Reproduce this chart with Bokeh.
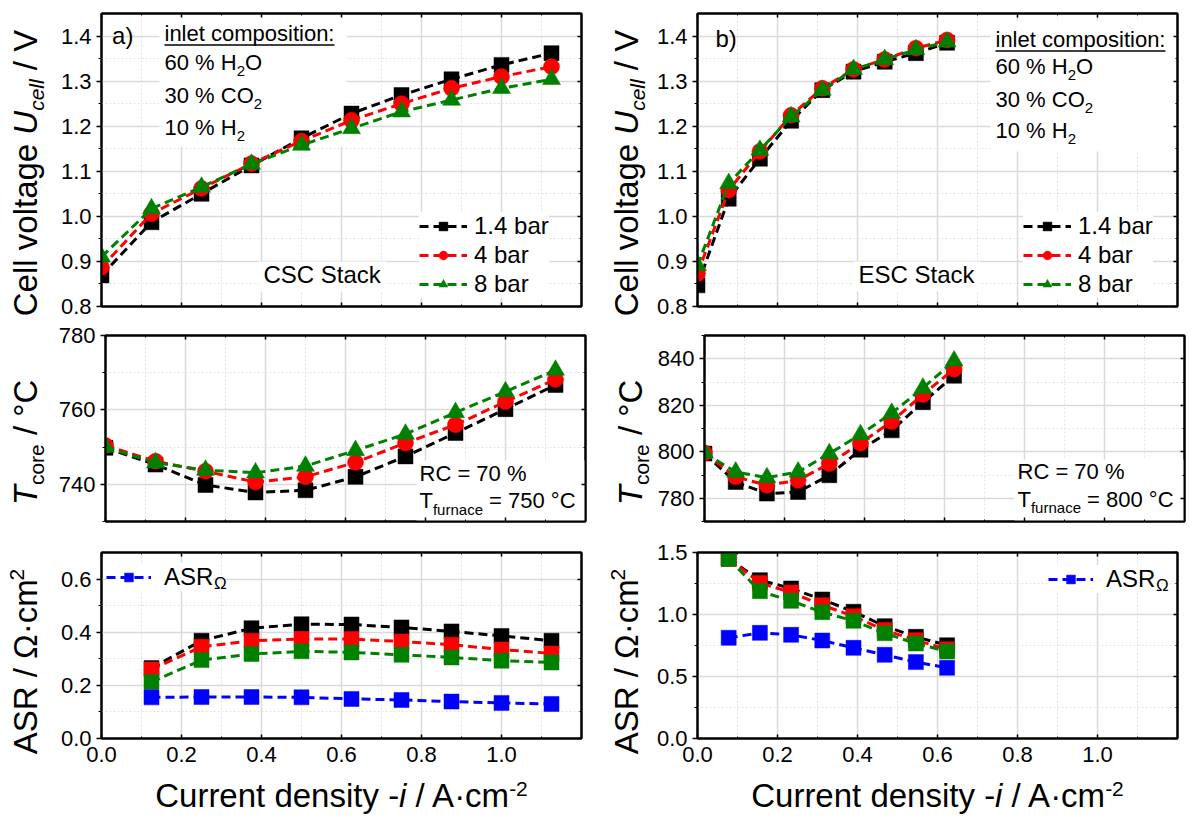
import math
from bokeh.plotting import figure
from bokeh.models import (Range1d, LinearAxis, SingleIntervalTicker, PrintfTickFormatter,
                          Label, Legend, LegendItem, BoxAnnotation)
from bokeh.layouts import column, row
from bokeh.embed import file_html
from bokeh.resources import INLINE

FONT = "Liberation Sans"

# ---------------- data ----------------
j_csc = [0.0, 0.125, 0.25, 0.375, 0.5, 0.625, 0.75, 0.875, 1.0, 1.125]
u_csc_1_4 = [0.869, 0.987, 1.050, 1.113, 1.173, 1.228, 1.269, 1.304, 1.336, 1.362]
u_csc_4 = [0.887, 1.006, 1.062, 1.117, 1.167, 1.213, 1.250, 1.284, 1.310, 1.332]
u_csc_8 = [0.910, 1.017, 1.065, 1.116, 1.158, 1.195, 1.232, 1.258, 1.284, 1.304]

j_esc = [0.0, 0.078, 0.156, 0.234, 0.312, 0.39, 0.468, 0.546, 0.624]
u_esc_1_4 = [0.847, 1.039, 1.128, 1.212, 1.280, 1.321, 1.343, 1.362, 1.385]
u_esc_4 = [0.873, 1.058, 1.144, 1.224, 1.284, 1.326, 1.348, 1.373, 1.391]
u_esc_8 = [0.891, 1.073, 1.147, 1.221, 1.280, 1.326, 1.348, 1.370, 1.387]

t_csc_1_4 = [749.8, 745.3, 739.8, 737.8, 738.4, 742.0, 747.5, 753.8, 760.2, 766.7]
t_csc_4 = [750.4, 746.2, 743.5, 740.6, 742.0, 745.9, 751.1, 756.0, 762.2, 768.2]
t_csc_8 = [750.0, 745.8, 743.8, 743.1, 744.9, 749.1, 753.5, 759.3, 764.9, 770.7]

t_esc_1_4 = [799.2, 787.0, 782.0, 782.7, 789.9, 800.9, 809.2, 821.3, 832.7]
t_esc_4 = [799.5, 789.2, 785.6, 787.7, 794.9, 803.7, 813.0, 824.6, 835.6]
t_esc_8 = [799.5, 791.3, 788.9, 791.3, 799.2, 807.4, 816.6, 827.4, 839.1]

j_csc_asr = [0.125, 0.25, 0.375, 0.5, 0.625, 0.75, 0.875, 1.0, 1.125]
asr_csc_1_4 = [0.265, 0.368, 0.415, 0.430, 0.429, 0.418, 0.403, 0.386, 0.368]
asr_csc_4 = [0.260, 0.345, 0.368, 0.374, 0.374, 0.365, 0.353, 0.335, 0.320]
asr_csc_8 = [0.213, 0.295, 0.318, 0.328, 0.324, 0.315, 0.305, 0.293, 0.286]
asr_csc_ohm = [0.155, 0.156, 0.156, 0.155, 0.149, 0.145, 0.139, 0.134, 0.130]

j_esc_asr = [0.078, 0.156, 0.234, 0.312, 0.39, 0.468, 0.546, 0.624]
asr_esc_1_4 = [1.450, 1.277, 1.210, 1.121, 1.022, 0.906, 0.820, 0.752]
asr_esc_4 = [1.450, 1.255, 1.177, 1.075, 0.986, 0.874, 0.793, 0.720]
asr_esc_8 = [1.449, 1.188, 1.110, 1.019, 0.949, 0.849, 0.766, 0.702]
asr_esc_ohm = [0.812, 0.852, 0.836, 0.790, 0.731, 0.675, 0.616, 0.570]

pressure_labels = ["1.4 bar", "4 bar", "8 bar"]
x_range = (0.0, 1.2)

# ---------------- helpers ----------------
W = {' ': 278, '%': 889, '(': 333, ')': 333, '-': 333, '.': 278, '/': 278, ':': 278, '=': 584,
     'A': 667, 'C': 722, 'E': 667, 'H': 722, 'O': 778, 'R': 722, 'S': 667, 'T': 611, 'U': 722,
     'V': 667, 'a': 556, 'b': 556, 'c': 500, 'd': 556, 'e': 556, 'f': 278, 'g': 556, 'i': 222,
     'k': 500, 'l': 222, 'm': 833, 'n': 556, 'o': 556, 'p': 556, 'r': 333, 's': 500, 't': 278,
     'u': 556, 'v': 500, 'y': 500, '°': 400, '·': 278, 'Ω': 768}
for d in "0123456789":
    W[d] = 556

BASE_FIX = 0.37   # empirical baseline correction (fraction of font size)


def tw(s, size):
    return sum(W.get(c, 556) for c in s) * size / 1000.0


def rich(p, pieces, x, y, vertical=False, center=False):
    total = sum(tw(t, s) for t, s, _, _ in pieces)
    pos = (y if vertical else x) - (total / 2 if center else 0)
    for t, s, shift, style in pieces:
        lead = len(t) - len(t.lstrip(" "))
        pos += tw(" " * lead, s)
        txt = t.strip(" ")
        up = shift + BASE_FIX * s
        if vertical:
            lx, ly, ang = x - up, pos, math.pi / 2
        else:
            lx, ly, ang = pos, y + up, 0.0
        p.add_layout(Label(x=lx, y=ly, x_units="screen", y_units="screen", text=txt,
                           text_font=FONT, text_font_size=f"{s}px", text_font_style=style,
                           text_color="black", text_align="left", text_baseline="alphabetic",
                           angle=ang, angle_units="rad"))
        pos += tw(t.lstrip(" "), s)
    return total


def box(p, l, r, b, t, color="white", level="underlay"):
    p.add_layout(BoxAnnotation(left=l, right=r, bottom=b, top=t, left_units="screen",
                               right_units="screen", bottom_units="screen", top_units="screen",
                               fill_color=color, fill_alpha=1.0, line_color=None,
                               level=level))


def strip(w, h):
    s = figure(frame_width=w, frame_height=h, x_range=Range1d(0, 1), y_range=Range1d(0, 1),
               output_backend="svg", toolbar_location=None, x_axis_type=None, y_axis_type=None,
               min_border_left=0, min_border_right=0, min_border_top=0, min_border_bottom=0,
               outline_line_color=None, background_fill_color="white",
               border_fill_color="white")
    s.grid.visible = False
    return s


def make_panel(y_rng, y_int, y_fmt, fh, bl, br, bt, bb, x_labels):
    p = figure(frame_width=480, frame_height=fh, x_range=Range1d(*x_range),
               y_range=Range1d(*y_rng), output_backend="svg", toolbar_location=None,
               min_border_left=bl, min_border_right=br, min_border_top=bt, min_border_bottom=bb,
               background_fill_color="white", border_fill_color="white")
    xt = SingleIntervalTicker(interval=0.2, num_minor_ticks=2)
    yt = SingleIntervalTicker(interval=y_int, num_minor_ticks=2)
    p.xaxis.ticker = xt
    p.yaxis.ticker = yt
    p.xgrid.ticker = xt
    p.ygrid.ticker = yt
    p.grid.grid_line_color = "#dadada"
    p.grid.grid_line_width = 1.5
    p.grid.minor_grid_line_color = "#e2e2e2"
    p.grid.minor_grid_line_dash = "2 2"
    p.grid.minor_grid_line_width = 1
    p.outline_line_color = "black"
    p.outline_line_width = 2
    for ax in p.xaxis:
        ax.formatter = PrintfTickFormatter(format="%.1f")
        ax.axis_line_width = 2
        ax.major_tick_in = 4
        ax.major_tick_out = 0
        ax.minor_tick_in = 2
        ax.minor_tick_out = 0
        ax.major_tick_line_width = 1.5
        ax.major_label_text_font = FONT
        if x_labels:
            ax.major_label_text_font_size = "22px"
            ax.major_label_standoff = 8
            ax.major_label_text_color = "black"
        else:
            ax.major_label_text_font_size = "0px"
            ax.major_label_text_color = None
            ax.major_label_standoff = 0
    for ax in p.yaxis:
        ax.formatter = PrintfTickFormatter(format=y_fmt)
        ax.axis_line_width = 2
        ax.major_tick_in = 0
        ax.major_tick_out = 5
        ax.minor_tick_in = 0
        ax.minor_tick_out = 3
        ax.major_tick_line_width = 1.5
        ax.major_label_text_font = FONT
        ax.major_label_text_font_size = "22px"
        ax.major_label_standoff = 5
        ax.major_label_text_color = "black"
    for side, tk in (("above", xt), ("right", yt)):
        ax = LinearAxis(ticker=tk, major_tick_in=4, major_tick_out=0, minor_tick_in=2,
                        minor_tick_out=0, major_label_text_font_size="0px",
                        major_label_text_color=None, major_label_standoff=0,
                        axis_line_width=2, major_tick_line_width=1.5)
        p.add_layout(ax, side)
    return p


def series(p, x, y, color, marker, size):
    r1 = p.line(x, y, line_color=color, line_width=3, line_dash="9 5")
    r2 = p.scatter(x, y, marker=marker, size=size, fill_color=color, line_color=color,
                   line_width=0.5)
    return [r1, r2]


def legend(p, items, loc, gw, stand):
    lg = Legend(items=[LegendItem(label=l, renderers=r) for l, r in items], location=loc,
                label_text_font=FONT, label_text_font_size="24px", label_text_color="black",
                glyph_width=gw, glyph_height=22, label_height=22, spacing=1, padding=4,
                margin=0, border_line_color=None, background_fill_color="white",
                background_fill_alpha=1.0, label_standoff=stand)
    p.add_layout(lg)


colors = ["black", "red", "green"]
markers = [("square", 15), ("circle", 16), ("triangle", 18)]

# layout geometry (pixels)
SLW, LB, LR = 55, 46, 9       # left label strip, left panel borders
SRW, RB, RR = 60, 47, 16      # right label strip, right panel borders
H1 = (13, 293, 15)
H2 = (14, 186, 15)
H3 = (16, 186, 35)
XLH = 48

# ---------------- top row ----------------
f1 = make_panel((0.8, 1.45), 0.1, "%.1f", H1[1], LB, LR, H1[0], H1[2], False)
f2 = make_panel((0.8, 1.45), 0.1, "%.1f", H1[1], RB, RR, H1[0], H1[2], False)

box(f1, 58, 245, 160, 290)
box(f1, 157, 285, 15, 45)
box(f2, 293, 478, 155, 286)
box(f2, 156, 283, 15, 45)

for p, xs, ys_list in ((f1, j_csc, [u_csc_1_4, u_csc_4, u_csc_8]),
                       (f2, j_esc, [u_esc_1_4, u_esc_4, u_esc_8])):
    rs = []
    for ys, c, (m, s) in zip(ys_list, colors, markers):
        rs.append(series(p, xs, ys, c, m, s))
    loc = (318, 8) if p is f1 else (326, 8)
    legend(p, list(zip(pressure_labels, rs)), loc, 48, 7)

for p, tag, tx, tb, cx, cb, ub, stack, sx in (
        (f1, "a)", 10.6, 262, 63, [265, 236, 203, 171], 261.5, "CSC Stack", 162),
        (f2, "b)", 18, 259, 298, [259, 232, 199, 168], 255.5, "ESC Stack", 161)):
    rich(p, [(tag, 24, 0, "normal")], tx, tb)
    wdt = rich(p, [("inlet composition:", 22, 0, "normal")], cx, cb[0])
    box(p, cx, cx + wdt, ub - 0.8, ub + 0.8, color="black", level="annotation")
    rich(p, [("60 % H", 22, 0, "normal"), ("2", 15, -6, "normal"), ("O", 22, 0, "normal")], cx, cb[1])
    rich(p, [("30 % CO", 22, 0, "normal"), ("2", 15, -6, "normal")], cx, cb[2])
    rich(p, [("10 % H", 22, 0, "normal"), ("2", 15, -6, "normal")], cx, cb[3])
    rich(p, [(stack, 24, 0, "normal")], sx, 23)

# ---------------- middle row ----------------
f3 = make_panel((730, 780), 20, "%d", H2[1], LB, LR, H2[0], H2[2], False)
f4 = make_panel((770, 850), 20, "%d", H2[1], RB, RR, H2[0], H2[2], False)
box(f3, 311, 480, 0, 61)
box(f4, 310, 480, 0, 62)

for p, xs, ys_list in ((f3, j_csc, [t_csc_1_4, t_csc_4, t_csc_8]),
                       (f4, j_esc, [t_esc_1_4, t_esc_4, t_esc_8])):
    for ys, c, (m, s) in zip(ys_list, colors, markers):
        series(p, xs, ys, c, m, s)

for p, x0, b1, b2, tf in ((f3, 314, 39.5, 12.7, "750"), (f4, 313, 41.7, 14.3, "800")):
    rich(p, [("RC = 70 %", 22, 0, "normal")], x0, b1)
    rich(p, [("T", 22, 0, "normal"), ("furnace", 15, -6, "normal"),
             (f" = {tf} °C", 22, 0, "normal")], x0, b2)

# ---------------- bottom row ----------------
f5 = make_panel((0.0, 0.7), 0.2, "%.1f", H3[1], LB, LR, H3[0], H3[2], True)
f6 = make_panel((0.0, 1.5), 0.5, "%.1f", H3[1], RB, RR, H3[0], H3[2], True)

for p, xs, ys_list, ohm, loc, om in (
        (f5, j_csc_asr, [asr_csc_1_4, asr_csc_4, asr_csc_8], asr_csc_ohm, (5, 147), (112.5, 149)),
        (f6, j_esc_asr, [asr_esc_1_4, asr_esc_4, asr_esc_8], asr_esc_ohm, (351, 145), (458.5, 147))):
    for ys, c in zip(ys_list, colors):
        series(p, xs, ys, c, "square", 15)
    rb = series(p, xs, ohm, "blue", "square", 15)
    legend(p, [("ASR", rb)], loc, 45, 13)
    rich(p, [("Ω", 17, 0, "normal")], om[0], om[1])

# ---------------- axis-title strips ----------------
ylab_cell = [("Cell voltage ", 33, 0, "normal"), ("U", 33, 0, "italic"),
             ("cell", 21, -7, "italic"), (" / V", 33, 0, "normal")]
ylab_t = [("T", 33, 0, "italic"), ("core", 21, -7, "normal"), (" / °C", 33, 0, "normal")]
ylab_asr = [("ASR / Ω·cm", 33, 0, "normal"), ("2", 21, 13, "normal")]
xlab = [("Current density -", 33, 0, "normal"), ("i", 33, 0, "italic"),
        (" / A·cm", 33, 0, "normal"), ("-2", 21, 11, "normal")]

rows = []
for (bt, fh, bb), lab, (fl, fr) in ((H1, ylab_cell, (f1, f2)), (H2, ylab_t, (f3, f4)),
                                    (H3, ylab_asr, (f5, f6))):
    hh = bt + fh + bb
    cy = bb + fh / 2
    sl = strip(SLW, hh)
    rich(sl, lab, 37, cy, vertical=True, center=True)
    sr = strip(SRW, hh)
    rich(sr, lab, 638 - 590, cy, vertical=True, center=True)
    rows.append(row(sl, fl, sr, fr))

lw = SLW + LB + 480 + LR
rw = SRW + RB + 480 + RR
xl = strip(lw, XLH)
rich(xl, xlab, SLW + LB + 240, 14, center=True)
xr = strip(rw, XLH)
rich(xr, xlab, SRW + RB + 240, 14, center=True)
rows.append(row(xl, xr))

layout = column(*rows)
open("out.html", "w").write(file_html(layout, INLINE))
